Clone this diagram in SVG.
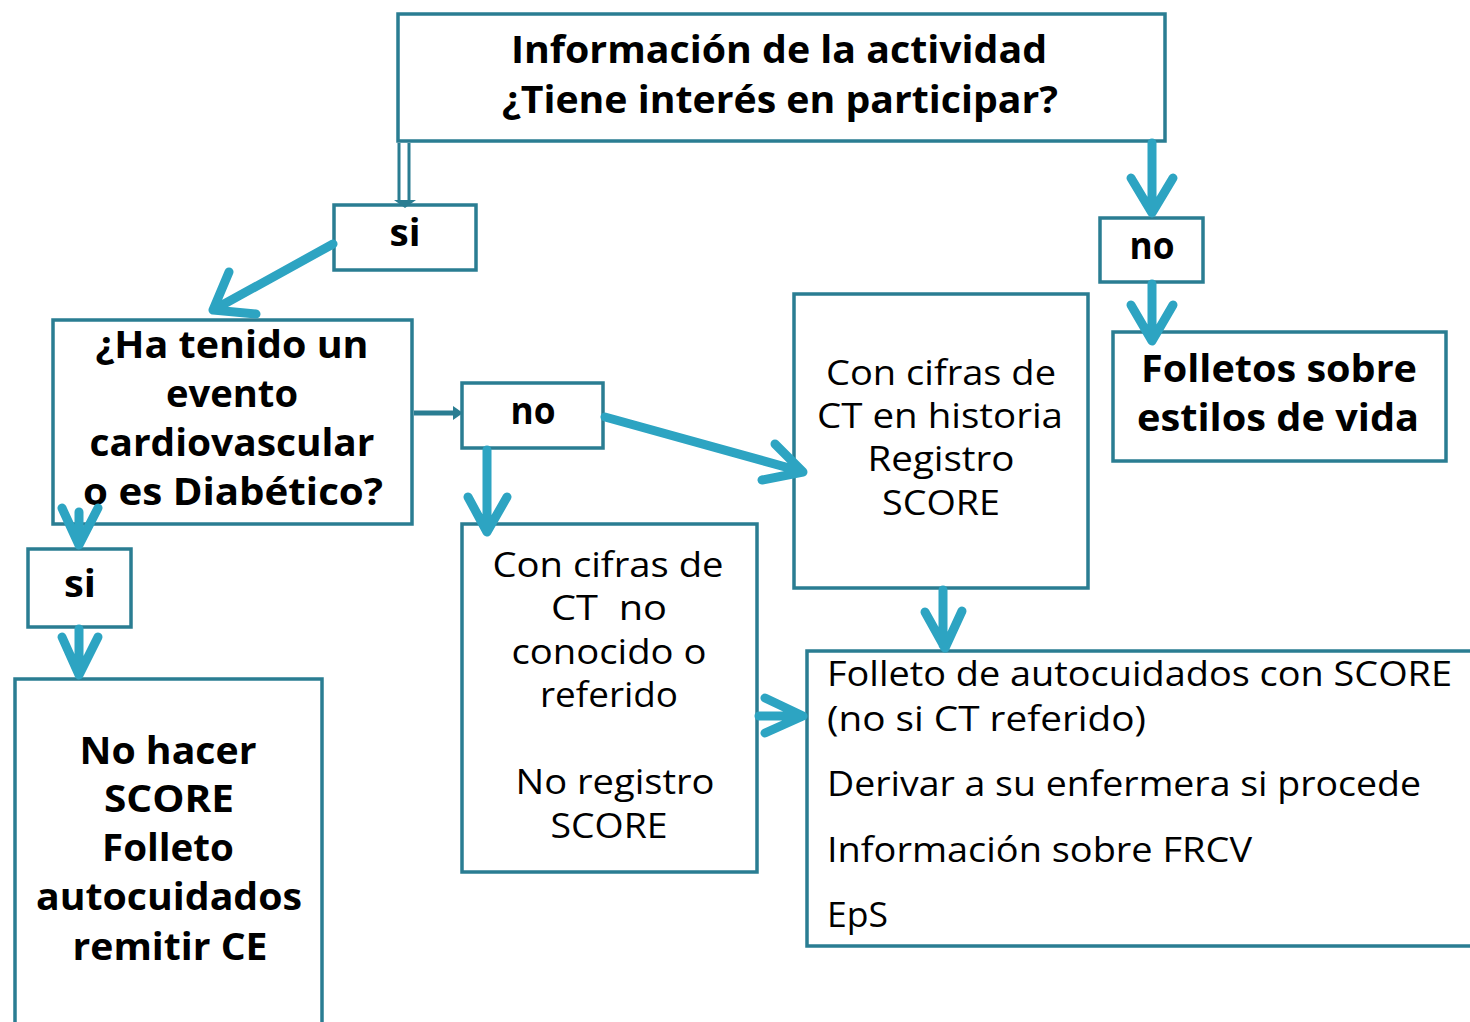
<svg xmlns="http://www.w3.org/2000/svg" width="1470" height="1022" viewBox="0 0 1470 1022">
<style>
.box{fill:#fff;stroke:#2a7d92;stroke-width:3.5}
.arr{stroke:#2da4c2;stroke-width:9;fill:none;stroke-linecap:round;stroke-linejoin:round}
.dk{stroke:#2a7d92;fill:none}
text{font-family:"Open Sans","DejaVu Sans",sans-serif;fill:#000}
.b{font-weight:bold;font-size:38px}
.r{font-weight:normal;font-size:35px}
.c{text-anchor:middle}
</style>
<rect width="1470" height="1022" fill="#fff"/>
<g id="n-top">
<rect class="box" x="398" y="14" width="767" height="127"/>
<text class="b c" x="779" y="63" textLength="536" lengthAdjust="spacingAndGlyphs">Información de la actividad</text>
<text class="b c" x="780" y="113" textLength="556" lengthAdjust="spacingAndGlyphs">¿Tiene interés en participar?</text>
</g>
<g id="n-si1">
<rect class="box" x="334" y="205" width="142" height="65"/>
<text class="b c" x="405" y="246" textLength="31" lengthAdjust="spacingAndGlyphs">si</text>
</g>
<g id="n-no1">
<rect class="box" x="1100" y="218" width="103" height="64"/>
<text class="b c" x="1152" y="259" textLength="45" lengthAdjust="spacingAndGlyphs">no</text>
</g>
<g id="n-folletos">
<rect class="box" x="1113" y="332" width="333" height="129"/>
<text class="b c" x="1279" y="382" textLength="276" lengthAdjust="spacingAndGlyphs">Folletos sobre</text>
<text class="b c" x="1278" y="431" textLength="282" lengthAdjust="spacingAndGlyphs">estilos de vida</text>
</g>
<g id="n-evento">
<rect class="box" x="53" y="320" width="359" height="204"/>
<text class="b c" x="232" y="358" textLength="273" lengthAdjust="spacingAndGlyphs">¿Ha tenido un</text>
<text class="b c" x="232" y="407" textLength="132" lengthAdjust="spacingAndGlyphs">evento</text>
<text class="b c" x="232" y="456" textLength="285" lengthAdjust="spacingAndGlyphs">cardiovascular</text>
<text class="b c" x="233" y="505" textLength="300" lengthAdjust="spacingAndGlyphs">o es Diabético?</text>
</g>
<g id="n-no2">
<rect class="box" x="462" y="383" width="141" height="65"/>
<text class="b c" x="533" y="424" textLength="45" lengthAdjust="spacingAndGlyphs">no</text>
</g>
<g id="n-historia">
<rect class="box" x="794" y="294" width="294" height="294"/>
<text class="r c" x="941" y="385" textLength="230" lengthAdjust="spacingAndGlyphs">Con cifras de</text>
<text class="r c" x="940" y="428" textLength="246" lengthAdjust="spacingAndGlyphs">CT en historia</text>
<text class="r c" x="941" y="471" textLength="147" lengthAdjust="spacingAndGlyphs">Registro</text>
<text class="r c" x="941" y="515" textLength="118" lengthAdjust="spacingAndGlyphs">SCORE</text>
</g>
<g id="n-si2">
<rect class="box" x="28" y="549" width="103" height="78"/>
<text class="b c" x="80" y="597" textLength="32" lengthAdjust="spacingAndGlyphs">si</text>
</g>
<g id="n-nohacer">
<rect class="box" x="15" y="679" width="307" height="360"/>
<text class="b c" x="168" y="764" textLength="177" lengthAdjust="spacingAndGlyphs">No hacer</text>
<text class="b c" x="169" y="812" textLength="130" lengthAdjust="spacingAndGlyphs">SCORE</text>
<text class="b c" x="168" y="861" textLength="132" lengthAdjust="spacingAndGlyphs">Folleto</text>
<text class="b c" x="169" y="910" textLength="266" lengthAdjust="spacingAndGlyphs">autocuidados</text>
<text class="b c" x="170" y="960" textLength="195" lengthAdjust="spacingAndGlyphs">remitir CE</text>
</g>
<g id="n-noconocido">
<rect class="box" x="462" y="524" width="295" height="348"/>
<text class="r c" x="608" y="577" textLength="231" lengthAdjust="spacingAndGlyphs">Con cifras de</text>
<text class="r c" x="609" y="620" textLength="116" lengthAdjust="spacingAndGlyphs" xml:space="preserve">CT  no</text>
<text class="r c" x="609" y="664" textLength="195" lengthAdjust="spacingAndGlyphs">conocido o</text>
<text class="r c" x="609" y="707" textLength="138" lengthAdjust="spacingAndGlyphs">referido</text>
<text class="r c" x="615" y="794" textLength="199" lengthAdjust="spacingAndGlyphs">No registro</text>
<text class="r c" x="609" y="838" textLength="117" lengthAdjust="spacingAndGlyphs">SCORE</text>
</g>
<g id="n-autocuidados">
<rect class="box" x="807" y="651" width="680" height="295"/>
<text class="r" x="827" y="686" textLength="625" lengthAdjust="spacingAndGlyphs">Folleto de autocuidados con SCORE</text>
<text class="r" x="827" y="731" textLength="319" lengthAdjust="spacingAndGlyphs">(no si CT referido)</text>
<text class="r" x="827" y="796" textLength="594" lengthAdjust="spacingAndGlyphs">Derivar a su enfermera si procede</text>
<text class="r" x="827" y="862" textLength="425" lengthAdjust="spacingAndGlyphs">Información sobre FRCV</text>
<text class="r" x="827" y="927" textLength="61" lengthAdjust="spacingAndGlyphs">EpS</text>
</g>
<g id="connectors">
<path class="dk" d="M399,143 V201 M409,143 V201" stroke-width="3"/>
<path d="M394,200 H416 L405,208 Z" fill="#2a7d92"/>
<path class="arr" d="M1152,143 V210 M1131,178 L1152,213 L1173,178"/>
<path class="arr" d="M1152,284 V338 M1131,305 L1152,341 L1173,305"/>
<path class="arr" d="M333,244 L215,309 M229,272 L213,310 L256,314"/>
<line x1="414" y1="413" x2="455" y2="413" stroke="#2a7d92" stroke-width="5"/>
<path d="M453,406 L463,413 L453,420 Z" fill="#2a7d92"/>
<path class="arr" d="M487,450 V528 M468,497 L487,532 L507,497"/>
<path class="arr" d="M605,417 L800,471 M775,444 L803,472 L762,480"/>
<path class="arr" d="M79,512 V542 M62,508 L79,545 L98,508"/>
<path class="arr" d="M79,629 V672 M62,637 L79,675 L98,637"/>
<path class="arr" d="M943,590 V645 M925,612 L945,648 L962,611"/>
<path class="arr" d="M759,716 H800 M765,698 L803,716 L765,733"/>
</g>
</svg>
